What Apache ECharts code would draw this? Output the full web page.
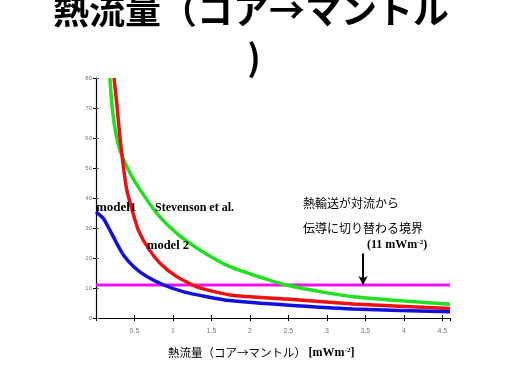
<!DOCTYPE html>
<html>
<head>
<meta charset="utf-8">
<script src="https://cdn.jsdelivr.net/npm/echarts@6/dist/echarts.min.js"></script>
<style>html,body{margin:0;padding:0;background:#fff}#c{width:512px;height:384px}</style>
</head>
<body>
<div id="c"></div>
<script>
// ---- data ----
var xTicks = [0.5, 1, 1.5, 2, 2.5, 3, 3.5, 4, 4.5];
var yTicks = [0, 10, 20, 30, 40, 50, 60, 70, 80];
var model1 = [[0,35.4],[0.095,33.2],[0.18,29.3],[0.27,24.9],[0.356,21],[0.49,17.1],[0.66,13.8],[0.88,11],[1.13,8.8],[1.44,7.1],[1.74,5.8],[2.47,4.3],[3.34,3.0],[4.6,2.1]];
var model2 = [[0.234,80],[0.27,71.6],[0.31,60.4],[0.356,50.4],[0.40,42.7],[0.47,36],[0.55,29.3],[0.68,23.2],[0.835,18.2],[1.05,13.8],[1.31,10.4],[1.74,7.7],[2.47,6.3],[3.34,4.7],[4.6,3.2]];
var stevenson = [[0.18,80],[0.205,71.6],[0.25,62.7],[0.31,56],[0.445,48.2],[0.575,42.7],[0.79,34.9],[1.05,28.2],[1.35,22.7],[1.74,17.1],[2.05,14.3],[2.47,11],[2.91,8.8],[3.34,7.1],[4.0,5.7],[4.6,4.6]];
var boundary = [[0,11],[4.6,11]];
var arrowFrom = [3.47, 21.5];
var arrowTo = [3.47, 11];

var chart = echarts.init(document.getElementById('c'));
var serif = '"Liberation Serif","Times New Roman",serif';
var jp = '"Noto Sans CJK JP","Noto Sans",sans-serif';

function fmtX(v){ return xTicks.indexOf(+v.toFixed(2)) >= 0 ? String(v) : ''; }

chart.setOption({
  animation: false,
  grid: {left: 96, right: 62, top: 78, bottom: 66},
  xAxis: [{
    type: 'value', min: 0, max: 4.6, interval: 0.5, position: 'bottom',
    axisLine: {lineStyle: {color: '#000', width: 1.2}},
    axisTick: {inside: true, length: 3, lineStyle: {color: '#000'}},
    axisLabel: {formatter: fmtX, fontSize: 7, color: '#777', margin: 10, showMaxLabel: false},
    splitLine: {show: false}
  }, {
    type: 'value', min: 0, max: 4.6, interval: 0.5, position: 'top',
    axisLine: {show: true, lineStyle: {color: '#000', width: 1.2}},
    axisTick: {inside: true, length: 3, lineStyle: {color: '#000'}},
    axisLabel: {show: false}, splitLine: {show: false}
  }],
  yAxis: [{
    type: 'value', min: 0, max: 80, interval: 10,
    axisLine: {show: true, lineStyle: {color: '#000', width: 1.2}},
    axisTick: {show: true, length: 3, lineStyle: {color: '#000'}},
    axisLabel: {fontSize: 6, color: '#777', margin: 4},
    splitLine: {show: false}
  }, {
    type: 'value', min: 0, max: 80, interval: 10, position: 'right',
    axisLine: {show: false},
    axisTick: {show: true, length: 3, lineStyle: {color: '#666'}},
    axisLabel: {show: false}, splitLine: {show: false}
  }],
  series: [
    {type: 'line', data: boundary, symbol: 'none', lineStyle: {color: '#f010f0', width: 3}, z: 2},
    {type: 'line', data: stevenson, smooth: 0.2, symbol: 'none', lineStyle: {color: '#20e020', width: 3.5}, z: 3},
    {type: 'line', data: model2, smooth: 0.2, symbol: 'none', lineStyle: {color: '#ee1010', width: 3.5}, z: 4},
    {type: 'line', data: model1, smooth: 0.2, symbol: 'none', lineStyle: {color: '#1010dd', width: 3.5}, z: 5,
      markLine: {silent: true, symbol: ['none', 'arrow'], symbolSize: [7, 9],
        label: {show: false}, lineStyle: {color: '#000', width: 2, type: 'solid'},
        data: [[{coord: arrowFrom}, {coord: arrowTo}]]}}
  ],
  graphic: [
    {type: 'text', x: 251, y: 10, style: {text: '熱流量（コア→マントル', font: 'bold 36px ' + jp, fill: '#000', textAlign: 'center', textVerticalAlign: 'middle'}},
    {type: 'text', x: 254, y: 57, style: {text: ')', font: 'bold 36px ' + jp, fill: '#000', textAlign: 'center', textVerticalAlign: 'middle'}},
    {type: 'text', x: 96, y: 208, style: {text: 'model1', font: 'bold 13px ' + serif, fill: '#000', textVerticalAlign: 'middle'}, z: 10},
    {type: 'text', x: 155, y: 208, style: {text: 'Stevenson et al.', font: 'bold 12px ' + serif, fill: '#000', textVerticalAlign: 'middle'}, z: 10},
    {type: 'text', x: 147, y: 246, style: {text: 'model 2', font: 'bold 12.5px ' + serif, fill: '#000', textVerticalAlign: 'middle'}, z: 10},
    {type: 'text', x: 303, y: 203, style: {text: '熱輸送が対流から', font: '12px ' + jp, fill: '#000', textVerticalAlign: 'middle'}, z: 10},
    {type: 'text', x: 303, y: 228, style: {text: '伝導に切り替わる境界', font: '12px ' + jp, fill: '#000', textVerticalAlign: 'middle'}, z: 10},
    {type: 'text', x: 367, y: 245, z: 10, style: {
      text: '{a|(11 mWm}{s|-2}{a|)}', textVerticalAlign: 'middle',
      rich: {a: {font: 'bold 12px ' + serif, fill: '#000'}, s: {font: 'bold 7px ' + serif, fill: '#000', verticalAlign: 'top'}}}},
    {type: 'text', x: 168, y: 353, z: 10, style: {
      text: '{j|熱流量（コア→マントル） }{b|[mWm}{s|-2}{b|]}', textVerticalAlign: 'middle',
      rich: {j: {font: '11.5px ' + jp, fill: '#000'}, b: {font: 'bold 12px ' + serif, fill: '#000'}, s: {font: 'bold 7px ' + serif, fill: '#000', verticalAlign: 'top'}}}}
  ]
});
</script>
</body>
</html>
